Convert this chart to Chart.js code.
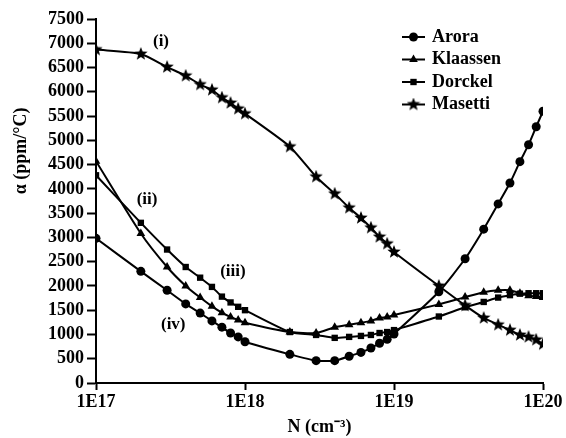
<!DOCTYPE html>
<html>
<head>
<meta charset="utf-8">
<script src="https://cdn.jsdelivr.net/npm/chart.js@4/dist/chart.umd.min.js"></script>
<style>
  html, body { margin: 0; padding: 0; background: #fff; }
  #wrap { width: 566px; height: 438px; }
</style>
</head>
<body>
<div id="wrap"><canvas id="alpha-chart" width="566" height="438"></canvas></div>
<script>
// Doping concentration N (cm^-3)
const concentrations = [
    1e17, 2e17, 3e17, 4e17, 5e17, 6e17, 7e17, 8e17, 9e17,
    1e18, 2e18, 3e18, 4e18, 5e18, 6e18, 7e18, 8e18, 9e18,
    1e19, 2e19, 3e19, 4e19, 5e19, 6e19, 7e19, 8e19, 9e19,
    1e20
];
const arora = [
    2980, 2300, 1910, 1630, 1440, 1280, 1150, 1030, 950,
    850, 590, 460, 460, 550, 630, 720, 820, 900,
    1010, 1880, 2560, 3170, 3690, 4120, 4560, 4910, 5280,
    5600
];
const klaassen = [
    4570, 3080, 2390, 2000, 1760, 1580, 1450, 1360, 1300,
    1240, 1050, 1030, 1150, 1200, 1240, 1280, 1340, 1360,
    1400, 1620, 1770, 1870, 1910, 1910, 1850, 1800, 1780,
    1760
];
const dorckel = [
    4280, 3300, 2750, 2390, 2170, 1980, 1780, 1660, 1570,
    1500, 1050, 990, 930, 950, 970, 990, 1030, 1050,
    1090, 1370, 1560, 1670, 1760, 1810, 1840, 1850, 1850,
    1850
];
const masetti = [
    6870, 6780, 6510, 6330, 6150, 6040, 5880, 5770, 5650,
    5550, 4870, 4250, 3900, 3610, 3400, 3200, 3010, 2870,
    2700, 2000, 1600, 1340, 1200, 1090, 990, 950, 890,
    800
];
const seriesNames = ['Arora', 'Klaassen', 'Dorckel', 'Masetti'];
const curveLabels = ['(i)', '(ii)', '(iii)', '(iv)'];
const yTitle = 'α (ppm/°C)';
const xTitle = 'N (cm⁻³)';

const FONT = '"Liberation Serif", "Times New Roman", serif';

// filled five point star marker
function makeStar(size) {
    const c = document.createElement('canvas');
    c.width = size; c.height = size;
    const g = c.getContext('2d');
    const cx = size / 2, cy = size / 2, ro = size / 2, ri = ro * 0.42;
    g.beginPath();
    for (let i = 0; i < 10; i++) {
        const r = i % 2 === 0 ? ro : ri;
        const a = -Math.PI / 2 + i * Math.PI / 5;
        g.lineTo(cx + r * Math.cos(a), cy + r * Math.sin(a));
    }
    g.closePath();
    g.fillStyle = '#000';
    g.fill();
    return c;
}
const starImg = makeStar(14);

function points(values) {
    return concentrations.map((x, i) => ({ x: x, y: values[i] }));
}

function series(label, values, style, radius) {
    return {
        label: label,
        data: points(values),
        borderColor: '#000',
        backgroundColor: '#000',
        borderWidth: 2,
        pointStyle: style,
        pointRadius: radius,
        pointBorderWidth: 0,
        tension: 0.2
    };
}

// legend drawn inside the plot, line with marker in the middle
const insideLegend = {
    id: 'insideLegend',
    afterDraw(chart) {
        const ctx = chart.ctx;
        ctx.save();
        ctx.font = 'bold 18px ' + FONT;
        ctx.fillStyle = '#000';
        ctx.textBaseline = 'middle';
        chart.data.datasets.forEach((ds, i) => {
            const y = 37 + i * 22.5;
            ctx.strokeStyle = '#000';
            ctx.lineWidth = 2;
            ctx.beginPath();
            ctx.moveTo(402, y);
            ctx.lineTo(425, y);
            ctx.stroke();
            Chart.helpers.drawPoint(ctx, {
                pointStyle: ds.pointStyle,
                radius: ds.pointRadius,
                rotation: 0,
                borderWidth: 0
            }, 413.5, y);
            ctx.fillText(ds.label, 432, y);
        });
        ctx.restore();
    }
};

// curve markers (i)..(iv) and the y axis title (sits above centre in the original)
const curveTags = {
    id: 'curveTags',
    afterDraw(chart) {
        const ctx = chart.ctx;
        const xs = chart.scales.x, ys = chart.scales.y;
        const spots = [[2.73e17, 7030], [2.2e17, 3770], [8.3e17, 2290], [3.3e17, 1200]];
        ctx.save();
        ctx.font = 'bold 17px ' + FONT;
        ctx.fillStyle = '#000';
        ctx.textAlign = 'center';
        ctx.textBaseline = 'middle';
        curveLabels.forEach((t, i) => {
            ctx.fillText(t, xs.getPixelForValue(spots[i][0]), ys.getPixelForValue(spots[i][1]));
        });
        ctx.font = 'bold 18px ' + FONT;
        ctx.translate(21, 151);
        ctx.rotate(-Math.PI / 2);
        ctx.fillText(yTitle, 0, 0);
        ctx.restore();
    }
};

const alphaChart = new Chart(document.getElementById('alpha-chart').getContext('2d'), {
    type: 'line',
    data: {
        datasets: [
            series(seriesNames[0], arora, 'circle', 4.5),
            series(seriesNames[1], klaassen, 'triangle', 5),
            series(seriesNames[2], dorckel, 'rect', 4.5),
            series(seriesNames[3], masetti, starImg, 7)
        ]
    },
    options: {
        responsive: false,
        animation: false,
        layout: { padding: { top: 19, right: 23, left: 0, bottom: 0 } },
        plugins: {
            legend: { display: false },
            tooltip: { enabled: false }
        },
        scales: {
            x: {
                type: 'logarithmic',
                min: 1e17,
                max: 1e20,
                afterBuildTicks(scale) {
                    scale.ticks = scale.ticks.filter(t => Math.abs(Math.log10(t.value) - Math.round(Math.log10(t.value))) < 1e-6);
                },
                afterFit(scale) { scale.height = 55; },
                ticks: {
                    color: '#000',
                    font: { family: FONT, size: 18, weight: 'bold' },
                    padding: 2,
                    maxRotation: 0,
                    autoSkip: false,
                    callback: v => '1E' + Math.round(Math.log10(v))
                },
                grid: { drawOnChartArea: false, drawTicks: true, tickLength: 7, tickWidth: 2, color: '#000' },
                border: { display: true, color: '#000', width: 2 },
                title: {
                    display: true,
                    text: xTitle,
                    color: '#000',
                    font: { family: FONT, size: 18, weight: 'bold' },
                    padding: { top: 0, bottom: 0 }
                }
            },
            y: {
                min: 0,
                max: 7500,
                afterFit(scale) { scale.width = 96; },
                ticks: {
                    stepSize: 500,
                    autoSkip: false,
                    color: '#000',
                    font: { family: FONT, size: 18, weight: 'bold' },
                    padding: 3,
                    callback: v => String(v)
                },
                grid: { drawOnChartArea: false, drawTicks: true, tickLength: 9, tickWidth: 2, color: '#000' },
                border: { display: true, color: '#000', width: 2 }
            }
        }
    },
    plugins: [insideLegend, curveTags]
});
</script>
</body>
</html>
